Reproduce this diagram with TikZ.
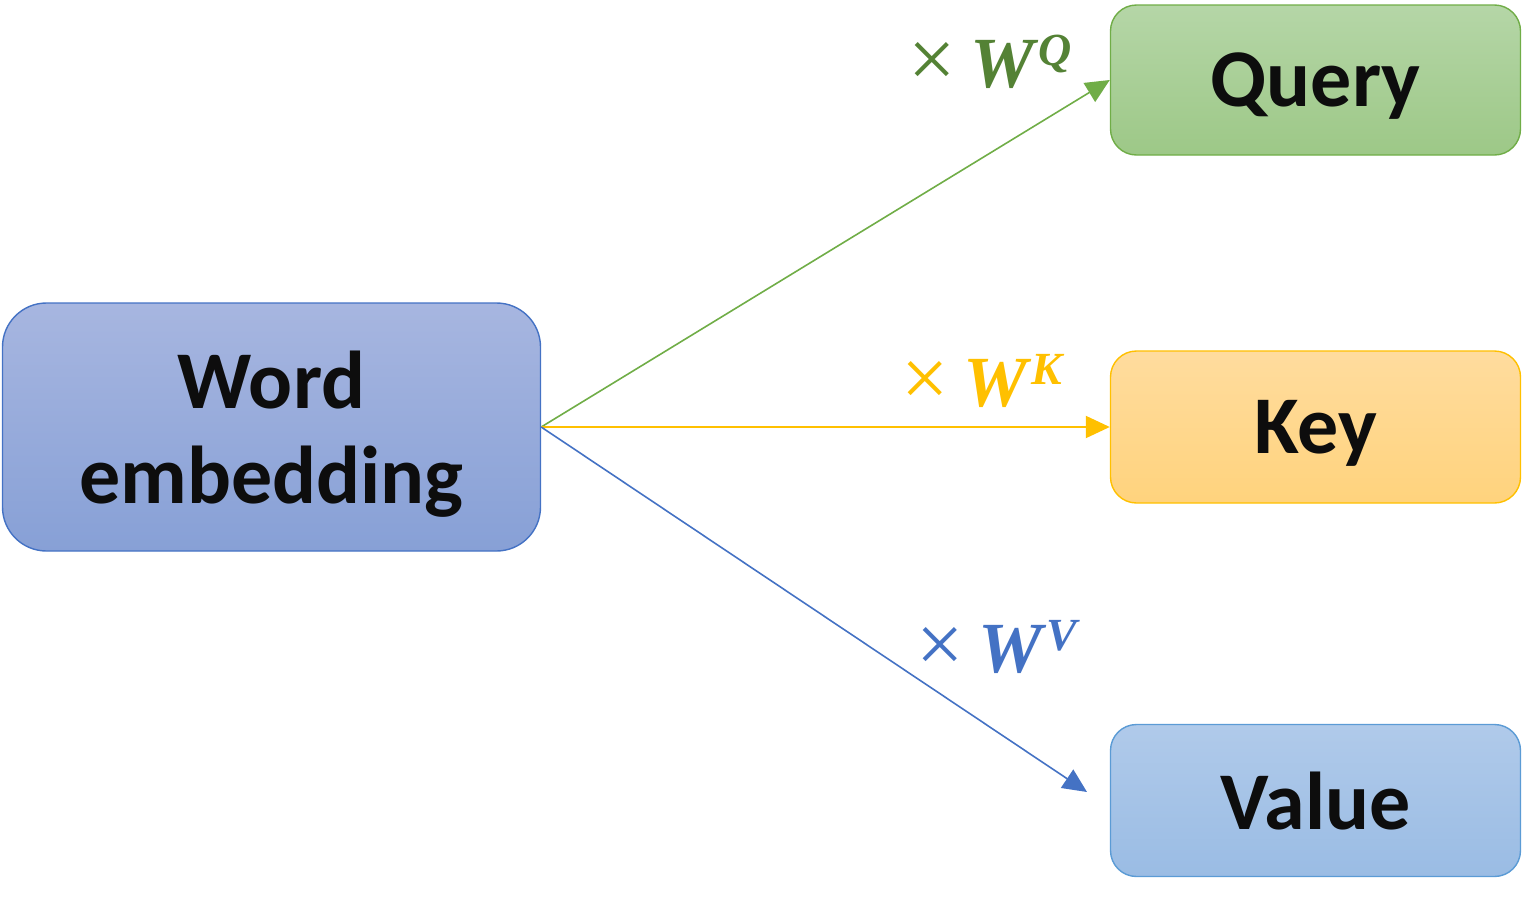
\documentclass[tikz,border=0pt]{standalone}
\usepackage{fontspec}
\setmainfont{Carlito}
\newfontfamily\labelfont{Liberation Serif}
\usepackage{tikz}
\usetikzlibrary{arrows.meta}
\usepackage{xcolor}
\definecolor{qline}{HTML}{70AD47}
\definecolor{qtext}{HTML}{548235}
\definecolor{kline}{HTML}{FFC000}
\definecolor{vline}{HTML}{4472C4}
\newcommand{\wlabel}[1]{{\labelfont\fontsize{42}{44}\selectfont ×\hspace{7pt}%
  \fontsize{36}{40}\selectfont\bfseries\itshape W\hspace{2pt}\raisebox{11pt}{\fontsize{23}{26}\selectfont #1}}}

\begin{document}
\begin{tikzpicture}[x=0.5pt,y=-0.5pt]
  \tikzset{wordbox/.style={draw,rounded corners=22pt,line width=0.7pt,align=center,inner sep=0pt,text depth=0pt,
      font=\fontsize{41}{47.5}\selectfont\bfseries,text=black!95}}
  \tikzset{flowarrow/.style={line width=0.8pt,-{Triangle[length=12pt,width=11pt]}}}
  \tikzset{weightlabel/.style={inner sep=0pt}}
  \useasboundingbox (0,0) rectangle (1522,900);
  \node[wordbox,draw=vline,top color={rgb,255:red,167;green,182;blue,224},bottom color={rgb,255:red,135;green,160;blue,214},
    minimum width=269pt,minimum height=124pt] (emb) at (271.5,427) {Word\\embedding};
  \node[wordbox,rounded corners=13pt,draw=qline,top color={rgb,255:red,181;green,214;blue,167},bottom color={rgb,255:red,157;green,200;blue,135},
    minimum width=205pt,minimum height=75pt] (query) at (1315.5,80) {Query};
  \node[wordbox,rounded corners=13pt,draw=kline,top color={rgb,255:red,255;green,220;blue,158},bottom color={rgb,255:red,255;green,211;blue,125},
    minimum width=205pt,minimum height=76pt] (key) at (1315.5,427) {Key};
  \node[wordbox,rounded corners=13pt,draw={rgb,255:red,91;green,155;blue,213},top color={rgb,255:red,176;green,202;blue,234},bottom color={rgb,255:red,154;green,188;blue,228},
    minimum width=205pt,minimum height=76pt] (value) at (1315.5,800.5) {Value};
  \coordinate (vend) at (1087,792);
  \draw[flowarrow,qline] (emb.east) -- (query.west);
  \draw[flowarrow,kline,line width=1pt] (emb.east) -- (key.west);
  \draw[flowarrow,vline] (emb.east) -- (vend);
  \node[weightlabel,text=qtext] (wq) at (990,62) {\wlabel{Q}};
  \node[weightlabel,text=kline] (wk) at (982,381) {\wlabel{K}};
  \node[weightlabel,text=vline] (wv) at (997,647) {\wlabel{V}};
\end{tikzpicture}
\end{document}
